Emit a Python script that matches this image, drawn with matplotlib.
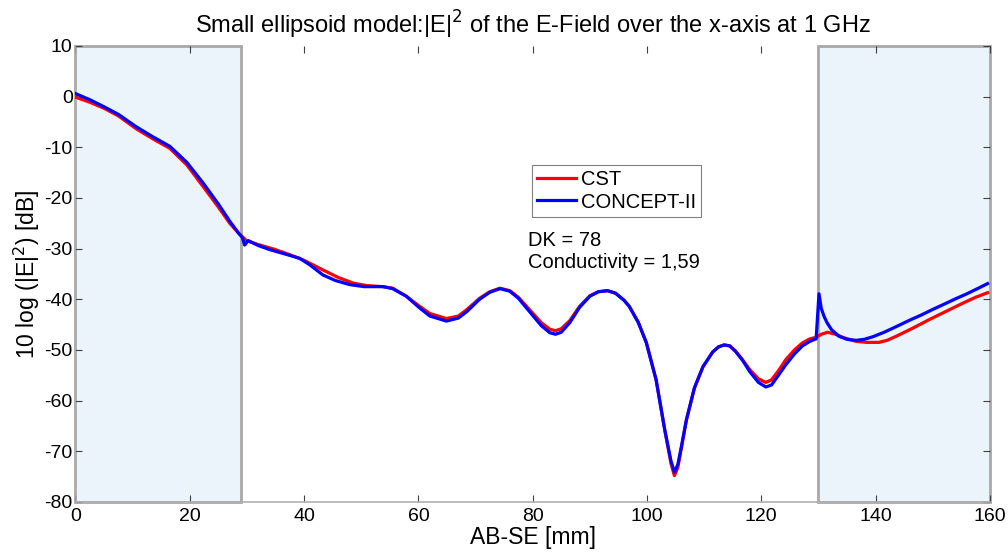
import matplotlib.pyplot as plt
from matplotlib.patches import Rectangle
import numpy as np

plt.rcParams['font.family'] = ['Liberation Sans', 'DejaVu Sans']
plt.rcParams['axes.unicode_minus'] = False

# CST curve (red)
cst_x = [0, 2.5, 5, 7.5, 10.7, 13.5, 16.5, 19.5, 22.3, 25, 27, 28.5, 29.9, 32, 35, 37.5,
         40, 43.3, 46, 48.6, 51, 53.8, 55.5, 57.9, 60, 62, 64.9, 67, 68.5, 70.7, 72.5,
         74.3, 76, 77.5, 79.5, 81.5, 83, 84, 85, 86.5, 88.2, 90, 91.5, 93.1, 94.5, 96,
         96.9, 98.5, 99.9, 101.6, 103.1, 104.2, 104.8, 105.4, 106, 106.9, 108.3, 109.8,
         111.5, 112.5, 113.5, 114.5, 115.5, 116.7, 118, 119.5, 120.8, 121.8, 123, 124.3,
         125.8, 127.2, 128.5, 129.6, 130.5, 131.6, 133, 134.5, 136.6, 138.5, 140.6, 142,
         143.6, 146.5, 149.4, 152.3, 155.2, 157.5, 159.6]
cst_y = [-0.1, -1.1, -2.3, -3.8, -6.4, -8.3, -10.2, -13.5, -17.7, -21.8, -25.0, -26.9,
         -28.4, -29.2, -30.2, -31.2, -32.3, -34.2, -35.7, -36.8, -37.3, -37.5, -37.8,
         -39.4, -41.2, -42.8, -43.8, -43.3, -42.0, -39.8, -38.5, -37.8, -38.3, -39.6,
         -42.1, -44.6, -45.9, -46.2, -45.8, -44.2, -41.4, -39.3, -38.5, -38.3, -38.8,
         -40.2, -41.4, -44.6, -48.6, -55.9, -65.7, -72.4, -74.8, -73.2, -69.5, -63.8,
         -57.5, -53.3, -50.4, -49.4, -49.0, -49.2, -50.2, -51.9, -53.9, -55.7, -56.4,
         -55.9, -54.1, -51.9, -50.0, -48.6, -47.8, -47.5, -46.9, -46.5, -46.9, -47.6,
         -48.3, -48.5, -48.5, -48.1, -47.3, -45.7, -44.0, -42.4, -40.8, -39.6, -38.7]

# CONCEPT-II curve (blue)
con_x = [0, 2.5, 5, 7.5, 10.7, 13.5, 16.5, 19.5, 22.3, 25, 27, 28.5, 29.2, 29.6, 30.2,
         32, 34, 36.5, 39.2, 41, 43.3, 45.5, 48, 50.5, 53.8, 55.5, 57.9, 60, 62, 64.9,
         67, 68.5, 70.7, 72.5, 74.3, 76, 77.5, 79.5, 81.5, 83, 84, 85, 86.5, 88.2, 90,
         91.5, 93.1, 94.5, 96, 96.9, 98.5, 99.9, 101.6, 103.1, 104.2, 104.8, 105.4, 106,
         106.9, 108.3, 109.8, 111.5, 112.5, 113.5, 114.5, 115.5, 116.7, 118, 119.5, 120.8,
         121.8, 123, 124.3, 125.8, 127.2, 128.5, 129.6, 130.1, 130.5, 131, 131.5, 132.3,
         133.6, 135, 136.6, 138, 139.5, 141.5, 143.6, 146, 148, 150, 152.3, 154, 156,
         158, 159.6]
con_y = [0.6, -0.6, -2.0, -3.5, -6.0, -7.9, -9.8, -13.0, -17.0, -21.2, -24.6, -26.9,
         -27.8, -29.3, -28.4, -29.4, -30.2, -31.0, -31.9, -33.2, -35.2, -36.3, -37.1,
         -37.5, -37.5, -37.9, -39.4, -41.5, -43.3, -44.3, -43.7, -42.4, -40.0, -38.6,
         -37.9, -38.4, -39.8, -42.5, -45.2, -46.6, -46.9, -46.5, -44.6, -41.6, -39.4,
         -38.5, -38.3, -38.8, -40.2, -41.4, -44.6, -48.6, -55.9, -65.7, -71.9, -74.1,
         -72.6, -69.2, -63.8, -57.5, -53.3, -50.4, -49.4, -49.0, -49.2, -50.3, -52.0,
         -54.3, -56.4, -57.3, -56.9, -55.0, -52.9, -50.8, -49.2, -48.3, -47.8, -38.9,
         -41.8, -43.4, -44.6, -46.0, -47.3, -47.9, -48.1, -47.9, -47.4, -46.5, -45.4,
         -44.1, -43.1, -42.0, -40.8, -39.9, -38.9, -37.8, -36.9]

fig = plt.figure(figsize=(10.08, 5.54), dpi=100)
ax = fig.add_axes([0.0749, 0.0939, 0.9071, 0.8231])

# shaded regions at both ends
for x0, x1 in [(0, 29), (130, 160)]:
	ax.add_patch(Rectangle((x0, -80), x1 - x0, 90, facecolor='#ebf3fb', edgecolor='#a8a8a8',
						   linewidth=2, zorder=1, clip_on=False))

ax.plot(cst_x, cst_y, color='red', linewidth=2.3, label='CST', zorder=3,
		solid_joinstyle='round')
ax.plot(con_x, con_y, color='blue', linewidth=2.3, label='CONCEPT-II', zorder=4,
		solid_joinstyle='round')

ax.set_xlim(0, 160)
ax.set_ylim(-80, 10)
ax.set_xticks(np.arange(0, 161, 20))
ax.set_yticks(np.arange(-80, 11, 10))
ax.tick_params(direction='in', top=True, right=True, length=5, color='#404040',
			   labelsize=14)
ax.tick_params(axis='x', pad=4)
ax.tick_params(axis='y', pad=2)
for s in ['top', 'right']:
	ax.spines[s].set_visible(False)
for s in ['left', 'bottom']:
	ax.spines[s].set_color('#b0b0b0')
	ax.spines[s].set_linewidth(1.2)

ax.set_title('Small ellipsoid model:|E|$^2$ of the E-Field over the x-axis at 1 GHz',
			 fontsize=17, pad=9)
ax.set_xlabel('AB-SE [mm]', fontsize=16.5, labelpad=1)
ax.set_ylabel('10 log (|E|$^2$) [dB]', fontsize=16.5, labelpad=2)

leg = ax.legend(loc='upper left', bbox_to_anchor=(0.4996, 0.7380), fontsize=14.5,
				frameon=True, fancybox=False, handlelength=1.9, handletextpad=0.25,
				borderpad=0.25, labelspacing=0.15, borderaxespad=0)
leg.get_frame().set_edgecolor('#606060')
leg.get_frame().set_linewidth(0.8)

ax.text(79.1, -28.3, 'DK = 78', fontsize=14.5, va='center', ha='left')
ax.text(79.1, -32.8, 'Conductivity = 1,59', fontsize=14.5, va='center', ha='left')

fig.savefig('out.png', dpi=100)
